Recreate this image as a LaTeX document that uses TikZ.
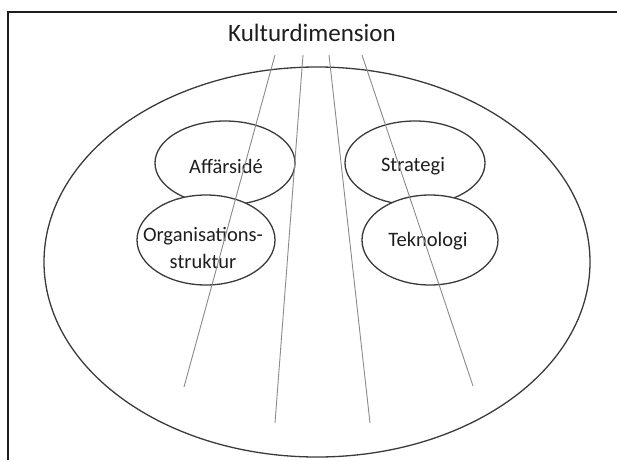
\documentclass[tikz,border=0pt]{standalone}
\usepackage{fontspec}
\setmainfont{Carlito}
\usetikzlibrary{shapes.geometric}
\definecolor{inkdark}{HTML}{1E1E1E}
\definecolor{rimgray}{HTML}{3A3A3A}
\definecolor{raygray}{HTML}{8A8A8A}
\begin{document}
\begin{tikzpicture}[x=1pt,y=-1pt,
  rim/.style={draw=rimgray,line width=1.3pt},
  blob/.style={ellipse,rim,fill=white,inner sep=0pt},
  label/.style={inner sep=0pt,align=center,
    font=\fontsize{20.5}{27}\selectfont,text=inkdark},
  ray/.style={draw=raygray,line width=0.9pt}]
  \useasboundingbox (0,0) rectangle (617,460);
  % partial frame: top and left edges
  \draw[inkdark,line width=2pt] (8,460) -- (8,12) -- (617,12);
  % title
  \node[font=\fontsize{25}{30}\selectfont,text=inkdark] (title) at (312,33) {Kulturdimension};
  % outer culture ellipse
  \node[ellipse,rim,minimum width=546pt,minimum height=390pt,inner sep=0pt] (culture) at (317,262) {};
  % inner dimensions (outlines, then their labels)
  \node[blob,minimum width=140pt,minimum height=84pt] (idea) at (225,163) {};
  \node[blob,minimum width=138pt,minimum height=90pt] (org) at (206,240) {};
  \node[blob,minimum width=140pt,minimum height=84pt] (strat) at (415,163) {};
  \node[blob,minimum width=136pt,minimum height=90pt] (tech) at (430,240) {};
  \node[label] (ideatxt) at ([xshift=1pt,yshift=-3pt]idea.center) {Affärsidé};
  \node[label] (orgtxt) at ([xshift=-3pt,yshift=-8pt]org.center) {Organisations-\\struktur};
  \node[label] (strattxt) at ([xshift=-2pt,yshift=-3pt]strat.center) {Strategi};
  \node[label] (techtxt) at ([xshift=-2pt,yshift=-1pt]tech.center) {Teknologi};
  % rays descending from the title
  \coordinate (r1a) at (275,55);  \coordinate (r1b) at (184,387);
  \coordinate (r2a) at (303,55);  \coordinate (r2b) at (275,423);
  \coordinate (r3a) at (329,55);  \coordinate (r3b) at (370,423);
  \coordinate (r4a) at (362,55);  \coordinate (r4b) at (473,386);
  \draw[ray] (r1a) -- (r1b);
  \draw[ray] (r2a) -- (r2b);
  \draw[ray] (r3a) -- (r3b);
  \draw[ray] (r4a) -- (r4b);
\end{tikzpicture}
\end{document}
